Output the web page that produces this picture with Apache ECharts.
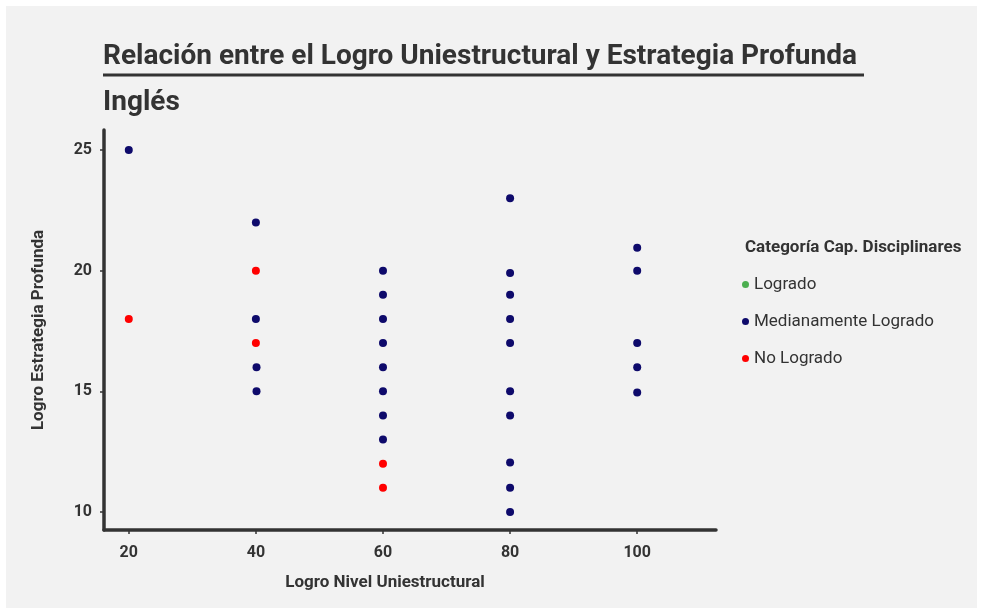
<!DOCTYPE html>
<html>
<head>
<meta charset="utf-8">
<script src="https://cdn.jsdelivr.net/npm/echarts@6/dist/echarts.min.js"></script>
<style>
html,body{margin:0;padding:0;background:#ffffff;}
#bg{position:absolute;left:6px;top:6px;width:971px;height:602px;background:#f2f2f2;}
#chart{position:absolute;left:0;top:0;width:982px;height:613px;}
</style>
</head>
<body>
<div id="bg"></div>
<div id="chart"></div>
<script>
const FONT = '"Roboto", "Noto Sans", sans-serif';
const titleText = 'Relación entre el Logro Uniestructural y Estrategia Profunda';
const subtitleText = 'Inglés';
const xAxisName = 'Logro Nivel Uniestructural';
const yAxisName = 'Logro Estrategia Profunda';
const legendTitle = 'Categoría Cap. Disciplinares';
const categories = ['Logrado', 'Medianamente Logrado', 'No Logrado'];
const colors = ['#4caf50', '#0e0a6b', '#ff0000'];

const logrado = [];
const medianamente = [
  [20, 25],
  [40, 22], [40, 18], [40.1, 16], [40.1, 15],
  [60, 20], [60, 19], [60, 18], [60, 17], [60, 16], [60, 15], [60, 14], [60, 13],
  [80, 23], [80, 19.9], [80, 19], [80, 18], [80, 17], [80, 15], [80, 14], [80, 12.05], [80, 11], [80, 10],
  [100, 20.95], [100, 20], [100, 17], [100, 16], [100, 14.95]
];
const noLogrado = [
  [20, 18],
  [40, 20], [40, 17],
  [60, 12], [60, 11]
];
const xTicks = [20, 40, 60, 80, 100];
const yTicks = [10, 15, 20, 25];

const chart = echarts.init(document.getElementById('chart'), null, {renderer: 'canvas'});
const seriesData = [logrado, medianamente, noLogrado];

chart.setOption({
  backgroundColor: 'transparent',
  textStyle: {fontFamily: FONT},
  title: [
    {text: titleText, left: 98, top: 38, textStyle: {fontFamily: FONT, fontSize: 28, fontWeight: 'bold', color: '#333333'}},
    {text: subtitleText, left: 98, top: 84, textStyle: {fontFamily: FONT, fontSize: 28, fontWeight: 'bold', color: '#333333'}},
    {text: legendTitle, left: 740, top: 234, textStyle: {fontFamily: FONT, fontSize: 17, fontWeight: 'bold', color: '#333333'}}
  ],
  graphic: [
    {type: 'line', shape: {x1: 103, y1: 75, x2: 864, y2: 75}, style: {stroke: '#333333', lineWidth: 3}}
  ],
  legend: {
    orient: 'vertical',
    left: 737,
    top: 271,
    itemGap: 20,
    itemWidth: 7,
    itemHeight: 7,
    icon: 'circle',
    data: categories,
    textStyle: {fontFamily: FONT, fontSize: 17, color: '#333333'}
  },
  grid: {left: 104, right: 266, top: 130, bottom: 83, containLabel: false},
  xAxis: {
    type: 'value',
    min: 16.1,
    max: 112.4,
    name: xAxisName,
    nameLocation: 'middle',
    nameGap: 44,
    nameTextStyle: {fontFamily: FONT, fontSize: 17, fontWeight: 'bold', color: '#333333', padding: [0, 50, 0, 0]},
    splitLine: {show: false},
    axisLine: {show: true, onZero: false, lineStyle: {color: '#333333', width: 3.5}},
    axisTick: {show: true, length: 4, lineStyle: {color: '#333333', width: 1.5}, customValues: xTicks},
    axisLabel: {fontFamily: FONT, fontSize: 16, fontWeight: 'bold', color: '#333333', margin: 15, customValues: xTicks}
  },
  yAxis: {
    type: 'value',
    min: 9.25,
    max: 25.83,
    name: yAxisName,
    nameLocation: 'middle',
    nameGap: 57,
    nameTextStyle: {fontFamily: FONT, fontSize: 17, fontWeight: 'bold', color: '#333333'},
    splitLine: {show: false},
    axisLine: {show: true, onZero: false, lineStyle: {color: '#333333', width: 3.5}},
    axisTick: {show: true, length: 4, lineStyle: {color: '#333333', width: 1.5}, customValues: yTicks},
    axisLabel: {fontFamily: FONT, fontSize: 16, fontWeight: 'bold', color: '#333333', margin: 12, customValues: yTicks}
  },
  series: categories.map((c, i) => ({
    name: c,
    type: 'scatter',
    symbol: 'circle',
    symbolSize: 8,
    itemStyle: {color: colors[i], opacity: 1},
    data: seriesData[i],
    emphasis: {disabled: true}
  }))
});
</script>
</body>
</html>
